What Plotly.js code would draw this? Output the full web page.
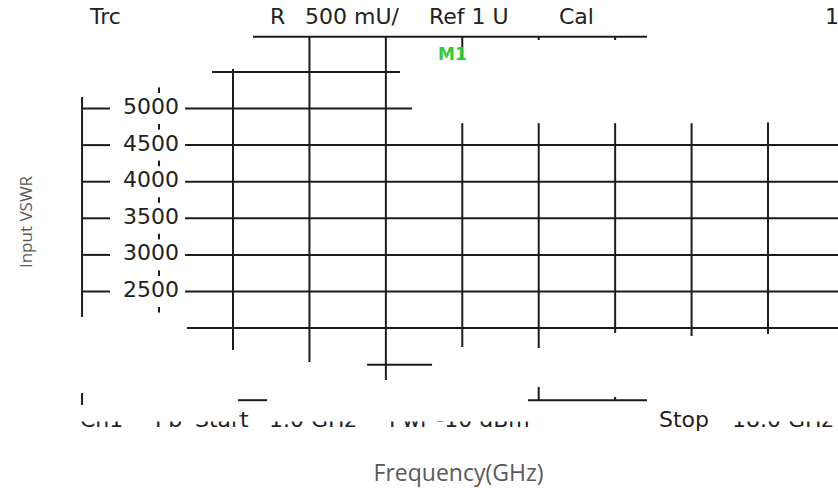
<!DOCTYPE html>
<html>
<head>
<meta charset="utf-8">
<script src="https://cdn.plot.ly/plotly-3.0.1.min.js"></script>
<style>
html, body { margin: 0; padding: 0; background: #ffffff; }
#chart { width: 838px; height: 488px; }
</style>
</head>
<body>
<div id="chart"></div>
<script>
// ---------------- data ----------------
// y (Input VSWR) tick labels
const yTickValues = [5000, 4500, 4000, 3500, 3000, 2500];
const yTickLabels = ['5000', '4500', '4000', '3500', '3000', '2500'];
// small dotted minor ticks between labels
const yMinorValues = [5250, 4750, 4250, 3750, 3250, 2750, 2250];

// horizontal grid segments (level on y axis, start / end on x axis)
const hLevels = [5980, 5500, 5000, 5000, 4500, 4500, 4000, 4000, 3500, 3500, 3000, 3000, 2500, 2500, 2000, 1500, 1015, 1015];
const hStarts = [2.262, 1.726, 0.025, 1.373, 0.025, 1.373, 0.025, 1.373, 0.025, 1.373, 0.025, 1.373, 0.025, 1.373, 1.399, 3.754, 2.066, 5.860];
const hEnds   = [7.417, 4.186, 0.391, 4.343, 0.391, 10.0, 0.391, 10.0, 0.391, 10.0, 0.391, 10.0, 0.391, 10.0, 10.0, 4.605, 2.445, 7.417];

// vertical grid segments (position on x axis, bottom / top on y axis)
const vPositions = [0.025, 0.025, 2, 3, 4, 5, 5, 6, 6, 6, 7, 7, 7, 8, 9];
const vBottoms   = [2152, 949, 1701, 1537, 1291, 5662, 1742, 5936, 1728, 1015, 5936, 1933, 1015, 1892, 1919];
const vTops      = [5157, 1113, 5540, 5980, 5980, 5980, 4800, 5980, 4800, 1195, 5980, 4800, 1059, 4800, 4810];

// instrument header / footer texts
const headerTexts = ['Trc', 'R', '500 mU/', 'Ref 1 U', 'Cal', '1'];
const footerTexts = ['Ch1', 'Pb', 'Start', '1.0 GHz', 'Pwr -10 dBm', 'Stop', '18.0 GHz'];
const markerLabel = 'M1';

// ---------------- layout constants ----------------
const W = 838, H = 488;
const M = { l: 79, r: 0, t: 34, b: 78 };
const X_RANGE = [-0.015, 9.916];
const Y_RANGE = [881, 6018];
const LABEL_X = 0.927;
const MINOR_X = 1.032;
const INK = '#1c1c1c';
const INST_FONT = 'DejaVu Sans, Liberation Sans, sans-serif';

const px2x = px => (px - M.l) / (W - M.l - M.r);
const px2y = py => (H - M.b - py) / (H - M.t - M.b);

// ---------------- traces ----------------
const hx = [], hy = [];
hLevels.forEach((lv, i) => { hx.push(hStarts[i], hEnds[i], null); hy.push(lv, lv, null); });
const vx = [], vy = [];
vPositions.forEach((p, i) => { vx.push(p, p, null); vy.push(vBottoms[i], vTops[i], null); });

const traces = [
  { type: 'scatter', mode: 'lines', x: hx, y: hy, line: { color: INK, width: 2 }, hoverinfo: 'skip', showlegend: false },
  { type: 'scatter', mode: 'lines', x: vx, y: vy, line: { color: INK, width: 2 }, hoverinfo: 'skip', showlegend: false },
  { type: 'scatter', mode: 'markers', x: yMinorValues.map(() => MINOR_X), y: yMinorValues,
    marker: { symbol: 'line-ns', size: 4, line: { color: INK, width: 2 } }, hoverinfo: 'skip', showlegend: false },
  { type: 'scatter', mode: 'text', x: yTickValues.map(() => LABEL_X), y: yTickValues, text: yTickLabels,
    textposition: 'middle center', cliponaxis: false,
    textfont: { family: INST_FONT, size: 22, color: '#222' }, hoverinfo: 'skip', showlegend: false }
];

// ---------------- annotations ----------------
const instFont = { family: INST_FONT, size: 22, color: '#222' };
const headerX = [87, 268, 303, 427, 557, 823];
const footerX = [78, 153, 193, 267, 387, 657, 730];
const annotations = [];
headerTexts.forEach((t, i) => annotations.push({
  text: t, xref: 'paper', yref: 'paper', x: px2x(headerX[i]), y: px2y(16.5),
  xanchor: 'left', yanchor: 'middle', showarrow: false, font: instFont
}));
footerTexts.forEach((t, i) => annotations.push({
  text: t, xref: 'paper', yref: 'paper', x: px2x(footerX[i]), y: px2y(419),
  xanchor: 'left', yanchor: 'middle', showarrow: false, font: instFont
}));
// white masks hiding the top of the partly erased footer text
[[70, 238], [256, 645], [720, 838]].forEach(([a, b]) => annotations.push({
  text: ' ', xref: 'paper', yref: 'paper', x: px2x(a), y: px2y(406),
  xanchor: 'left', yanchor: 'top', showarrow: false, width: b - a, height: 14,
  bgcolor: '#ffffff', borderpad: 0, font: { size: 4 }
}));
annotations.push({
  text: '<b>' + markerLabel + '</b>', xref: 'paper', yref: 'paper', x: px2x(452), y: px2y(53.5),
  xanchor: 'center', yanchor: 'middle', showarrow: false,
  font: { family: INST_FONT, size: 17, color: '#33cc33' }
});

const layout = {
  width: W, height: H,
  margin: M,
  paper_bgcolor: '#ffffff', plot_bgcolor: '#ffffff',
  showlegend: false,
  xaxis: {
    range: X_RANGE, showgrid: false, zeroline: false, showline: false,
    showticklabels: false, ticks: '', fixedrange: true,
    title: { text: 'Frequency(GHz)', standoff: 54, font: { family: 'Open Sans, sans-serif', size: 23, color: '#595959' } }
  },
  yaxis: {
    range: Y_RANGE, showgrid: false, zeroline: false, showline: false,
    showticklabels: false, ticks: '', fixedrange: true,
    title: { text: 'Input VSWR', standoff: 41, font: { family: 'Open Sans, sans-serif', size: 17, color: '#595959' } }
  },
  annotations: annotations
};

Plotly.newPlot('chart', traces, layout, { staticPlot: true, displayModeBar: false });
</script>
</body>
</html>
